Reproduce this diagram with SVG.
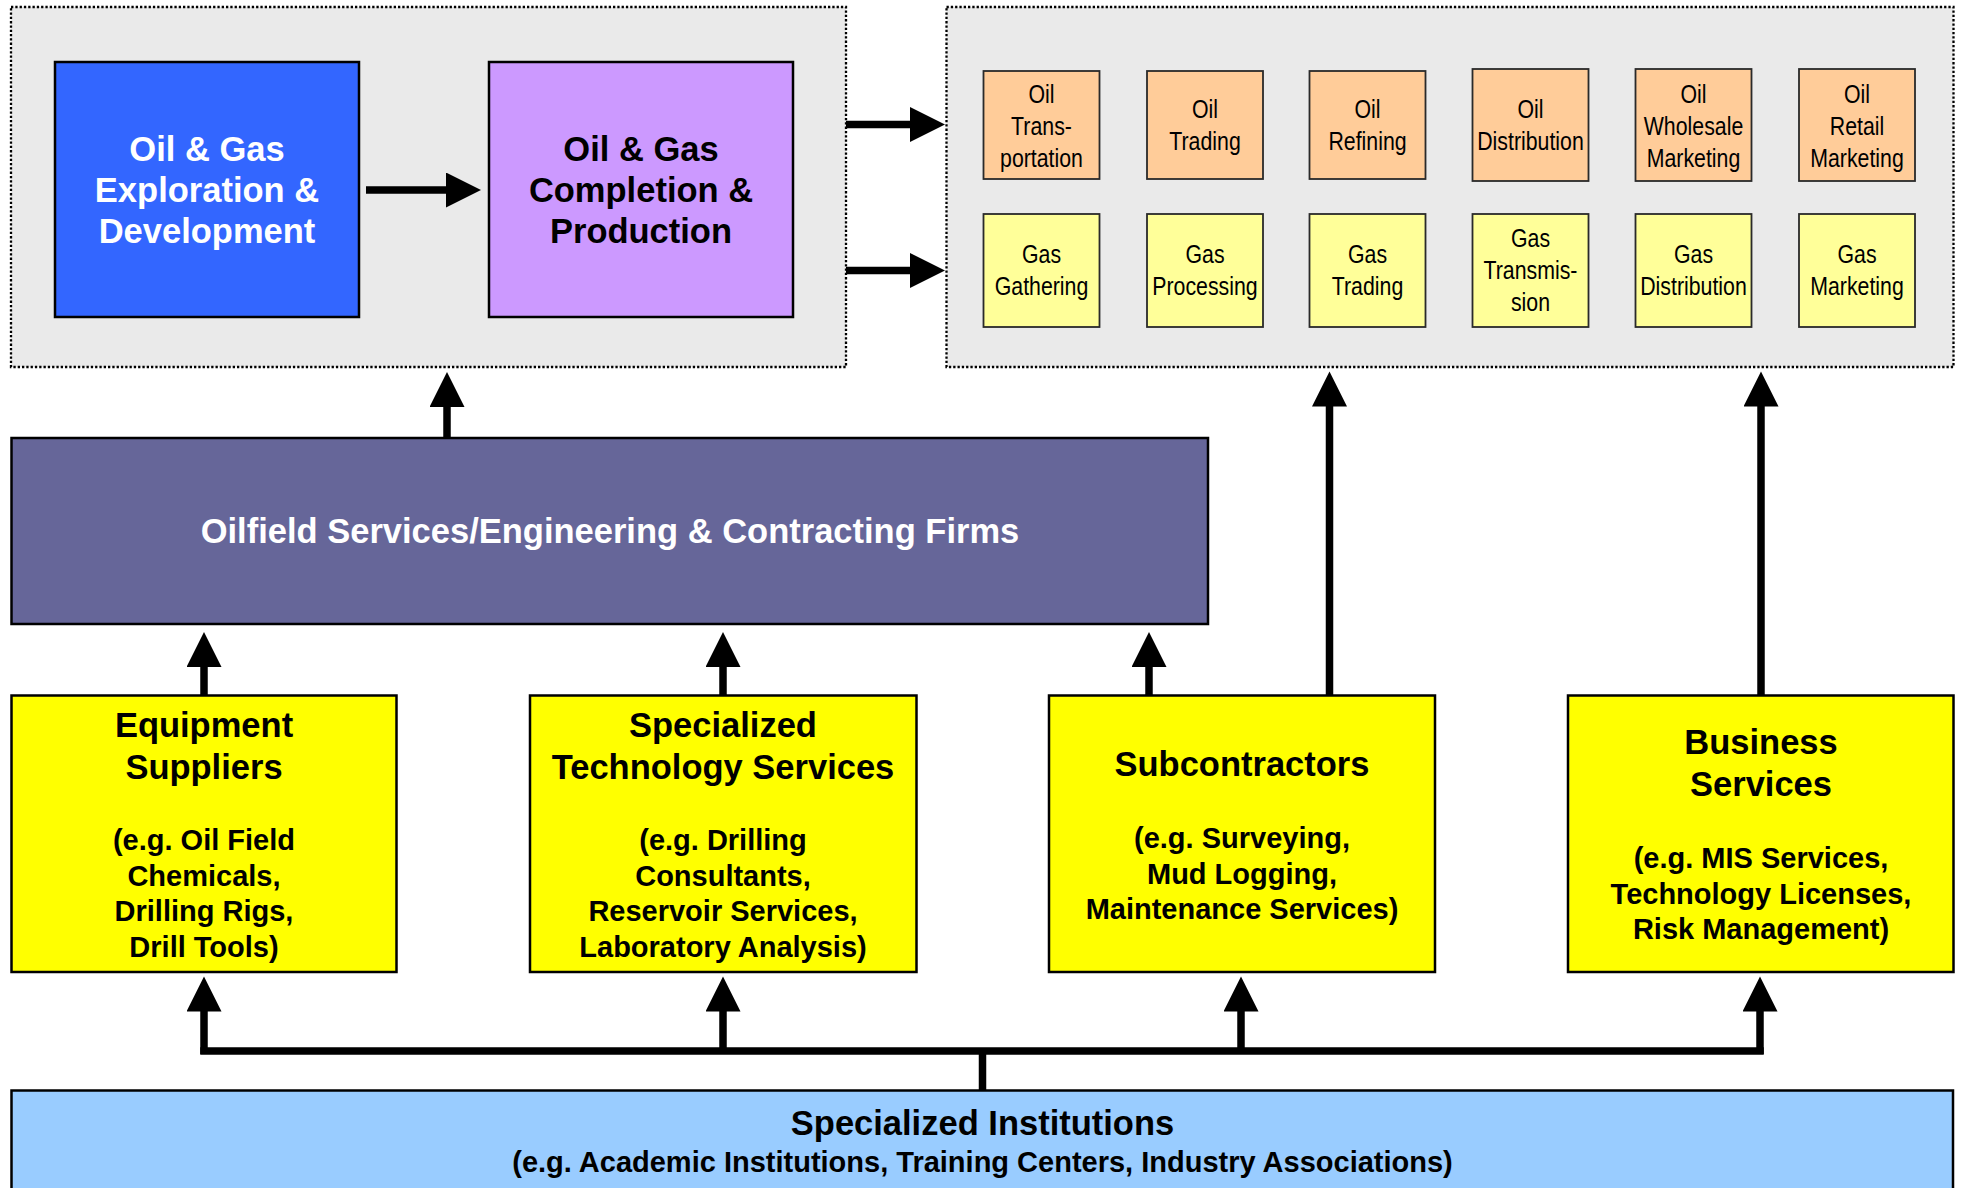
<svg xmlns="http://www.w3.org/2000/svg" width="1962" height="1188" viewBox="0 0 1962 1188">
  <defs>
    <marker id="head" markerUnits="userSpaceOnUse" markerWidth="36" markerHeight="36" viewBox="0 0 36 36" refX="1" refY="17.5" orient="auto">
      <path d="M0,0 L35,17.5 L0,35 Z" fill="#000"/>
    </marker>
    <style>
      .container { fill: #EAEAEA; stroke: #000; stroke-width: 2.3; stroke-dasharray: 2.3 2; }
      .box { stroke: #000; stroke-width: 2.5; }
      .cell { stroke: #2a2a2a; stroke-width: 1.8; }
      .oil { fill: #FFCC99; }
      .gas { fill: #FFFF99; }
      .big { font-family: "Liberation Sans", Arial, sans-serif; font-weight: bold; font-size: 34.5px; text-anchor: middle; }
      .sub { font-family: "Liberation Sans", Arial, sans-serif; font-weight: bold; font-size: 29px; text-anchor: middle; }
      /* narrow face: regular sans squeezed horizontally */
      .small { font-family: "Liberation Sans", Arial, sans-serif; font-size: 26px; text-anchor: middle; fill: #000; }
      .wire { fill: none; stroke: #000; stroke-width: 7.5; }
      .arrow { fill: none; stroke: #000; stroke-width: 7.5; marker-end: url(#head); }
    </style>
  </defs>

  <rect width="1962" height="1188" fill="#fff"/>

  <!-- upstream container -->
  <g id="upstream">
    <rect class="container" x="11" y="7" width="835" height="360"/>
    <g id="exploration">
      <rect class="box" x="55" y="62" width="304" height="255" fill="#3366FF"/>
      <text class="big" fill="#fff"><tspan x="207" y="161">Oil &amp; Gas</tspan><tspan x="207" y="202">Exploration &amp;</tspan><tspan x="207" y="243">Development</tspan></text>
    </g>
    <g id="production">
      <rect class="box" x="489" y="62" width="304" height="255" fill="#CC99FF"/>
      <text class="big" fill="#000"><tspan x="641" y="161">Oil &amp; Gas</tspan><tspan x="641" y="202">Completion &amp;</tspan><tspan x="641" y="243">Production</tspan></text>
    </g>
  </g>

  <!-- downstream container -->
  <g id="downstream">
    <rect class="container" x="946.5" y="7" width="1007" height="360"/>

    <g id="oil-transportation">
      <rect class="cell oil" x="983.5" y="71" width="116" height="108"/>
      <text class="small" transform="translate(1041.5 0) scale(0.82 1)"><tspan x="0" y="103">Oil</tspan><tspan x="0" y="135.5">Trans-</tspan><tspan x="0" y="167.5">portation</tspan></text>
    </g>
    <g id="oil-trading">
      <rect class="cell oil" x="1147" y="71" width="116" height="108"/>
      <text class="small" transform="translate(1205 0) scale(0.82 1)"><tspan x="0" y="118.5">Oil</tspan><tspan x="0" y="150.5">Trading</tspan></text>
    </g>
    <g id="oil-refining">
      <rect class="cell oil" x="1309.5" y="71" width="116" height="108"/>
      <text class="small" transform="translate(1367.5 0) scale(0.82 1)"><tspan x="0" y="118.5">Oil</tspan><tspan x="0" y="150.5">Refining</tspan></text>
    </g>
    <g id="oil-distribution">
      <rect class="cell oil" x="1472.5" y="69" width="116" height="112"/>
      <text class="small" transform="translate(1530.5 0) scale(0.82 1)"><tspan x="0" y="118.5">Oil</tspan><tspan x="0" y="150.5">Distribution</tspan></text>
    </g>
    <g id="oil-wholesale">
      <rect class="cell oil" x="1635.5" y="69" width="116" height="112"/>
      <text class="small" transform="translate(1693.5 0) scale(0.82 1)"><tspan x="0" y="103">Oil</tspan><tspan x="0" y="135">Wholesale</tspan><tspan x="0" y="167">Marketing</tspan></text>
    </g>
    <g id="oil-retail">
      <rect class="cell oil" x="1799" y="69" width="116" height="112"/>
      <text class="small" transform="translate(1857 0) scale(0.82 1)"><tspan x="0" y="103">Oil</tspan><tspan x="0" y="135">Retail</tspan><tspan x="0" y="167">Marketing</tspan></text>
    </g>

    <g id="gas-gathering">
      <rect class="cell gas" x="983.5" y="214" width="116" height="113"/>
      <text class="small" transform="translate(1041.5 0) scale(0.82 1)"><tspan x="0" y="263">Gas</tspan><tspan x="0" y="295">Gathering</tspan></text>
    </g>
    <g id="gas-processing">
      <rect class="cell gas" x="1147" y="214" width="116" height="113"/>
      <text class="small" transform="translate(1205 0) scale(0.82 1)"><tspan x="0" y="263">Gas</tspan><tspan x="0" y="295">Processing</tspan></text>
    </g>
    <g id="gas-trading">
      <rect class="cell gas" x="1309.5" y="214" width="116" height="113"/>
      <text class="small" transform="translate(1367.5 0) scale(0.82 1)"><tspan x="0" y="263">Gas</tspan><tspan x="0" y="295">Trading</tspan></text>
    </g>
    <g id="gas-transmission">
      <rect class="cell gas" x="1472.5" y="214" width="116" height="113"/>
      <text class="small" transform="translate(1530.5 0) scale(0.82 1)"><tspan x="0" y="247">Gas</tspan><tspan x="0" y="279">Transmis-</tspan><tspan x="0" y="311">sion</tspan></text>
    </g>
    <g id="gas-distribution">
      <rect class="cell gas" x="1635.5" y="214" width="116" height="113"/>
      <text class="small" transform="translate(1693.5 0) scale(0.82 1)"><tspan x="0" y="263">Gas</tspan><tspan x="0" y="295">Distribution</tspan></text>
    </g>
    <g id="gas-marketing">
      <rect class="cell gas" x="1799" y="214" width="116" height="113"/>
      <text class="small" transform="translate(1857 0) scale(0.82 1)"><tspan x="0" y="263">Gas</tspan><tspan x="0" y="295">Marketing</tspan></text>
    </g>
  </g>

  <g id="oilfield-services">
    <rect class="box" x="11.5" y="438" width="1196.5" height="186" fill="#666699"/>
    <text class="big" fill="#fff" x="610" y="543">Oilfield Services/Engineering &amp; Contracting Firms</text>
  </g>

  <g id="equipment-suppliers">
    <rect class="box" x="11.5" y="695.5" width="385" height="276.5" fill="#FFFF00"/>
    <text class="big"><tspan x="204" y="736.5">Equipment</tspan><tspan x="204" y="779">Suppliers</tspan></text>
    <text class="sub"><tspan x="204" y="850">(e.g. Oil Field</tspan><tspan x="204" y="885.5">Chemicals,</tspan><tspan x="204" y="921">Drilling Rigs,</tspan><tspan x="204" y="956.5">Drill Tools)</tspan></text>
  </g>

  <g id="technology-services">
    <rect class="box" x="530" y="695.5" width="386.5" height="276.5" fill="#FFFF00"/>
    <text class="big"><tspan x="723" y="736.5">Specialized</tspan><tspan x="723" y="779">Technology Services</tspan></text>
    <text class="sub"><tspan x="723" y="850">(e.g. Drilling</tspan><tspan x="723" y="885.5">Consultants,</tspan><tspan x="723" y="921">Reservoir Services,</tspan><tspan x="723" y="956.5">Laboratory Analysis)</tspan></text>
  </g>

  <g id="subcontractors">
    <rect class="box" x="1049" y="695.5" width="386" height="276.5" fill="#FFFF00"/>
    <text class="big" x="1242" y="775.5">Subcontractors</text>
    <text class="sub"><tspan x="1242" y="848">(e.g. Surveying,</tspan><tspan x="1242" y="883.5">Mud Logging,</tspan><tspan x="1242" y="918.5">Maintenance Services)</tspan></text>
  </g>

  <g id="business-services">
    <rect class="box" x="1568" y="695.5" width="385.5" height="276.5" fill="#FFFF00"/>
    <text class="big"><tspan x="1761" y="754">Business</tspan><tspan x="1761" y="796">Services</tspan></text>
    <text class="sub"><tspan x="1761" y="868">(e.g. MIS Services,</tspan><tspan x="1761" y="903.5">Technology Licenses,</tspan><tspan x="1761" y="939">Risk Management)</tspan></text>
  </g>

  <g id="specialized-institutions">
    <rect class="box" x="11.5" y="1090.5" width="1941.5" height="120" fill="#99CCFF"/>
    <text class="big" x="982.5" y="1135">Specialized Institutions</text>
    <text class="sub" x="982.5" y="1171.5">(e.g. Academic Institutions, Training Centers, Industry Associations)</text>
  </g>

  <g id="connectors">
    <!-- upstream flow -->
    <line class="arrow" x1="366" y1="190" x2="447" y2="190"/>
    <line class="arrow" x1="846" y1="124.5" x2="911" y2="124.5"/>
    <line class="arrow" x1="846" y1="270.5" x2="911" y2="270.5"/>
    <!-- oilfield services up to upstream -->
    <line class="arrow" x1="447" y1="438" x2="447" y2="406"/>
    <!-- suppliers up to oilfield services -->
    <line class="arrow" x1="204" y1="695.5" x2="204" y2="666"/>
    <line class="arrow" x1="723" y1="695.5" x2="723" y2="666"/>
    <line class="arrow" x1="1149" y1="695.5" x2="1149" y2="666"/>
    <!-- direct links to downstream -->
    <line class="arrow" x1="1329.5" y1="695.5" x2="1329.5" y2="405.5"/>
    <line class="arrow" x1="1761" y1="695.5" x2="1761" y2="405.5"/>
    <!-- institutions bus -->
    <line class="wire" x1="982.5" y1="1090" x2="982.5" y2="1051"/>
    <line class="wire" x1="200.25" y1="1051" x2="1763.75" y2="1051"/>
    <line class="arrow" x1="204" y1="1054" x2="204" y2="1010.5"/>
    <line class="arrow" x1="723" y1="1054" x2="723" y2="1010.5"/>
    <line class="arrow" x1="1241" y1="1054" x2="1241" y2="1010.5"/>
    <line class="arrow" x1="1760" y1="1054" x2="1760" y2="1010.5"/>
  </g>
</svg>
